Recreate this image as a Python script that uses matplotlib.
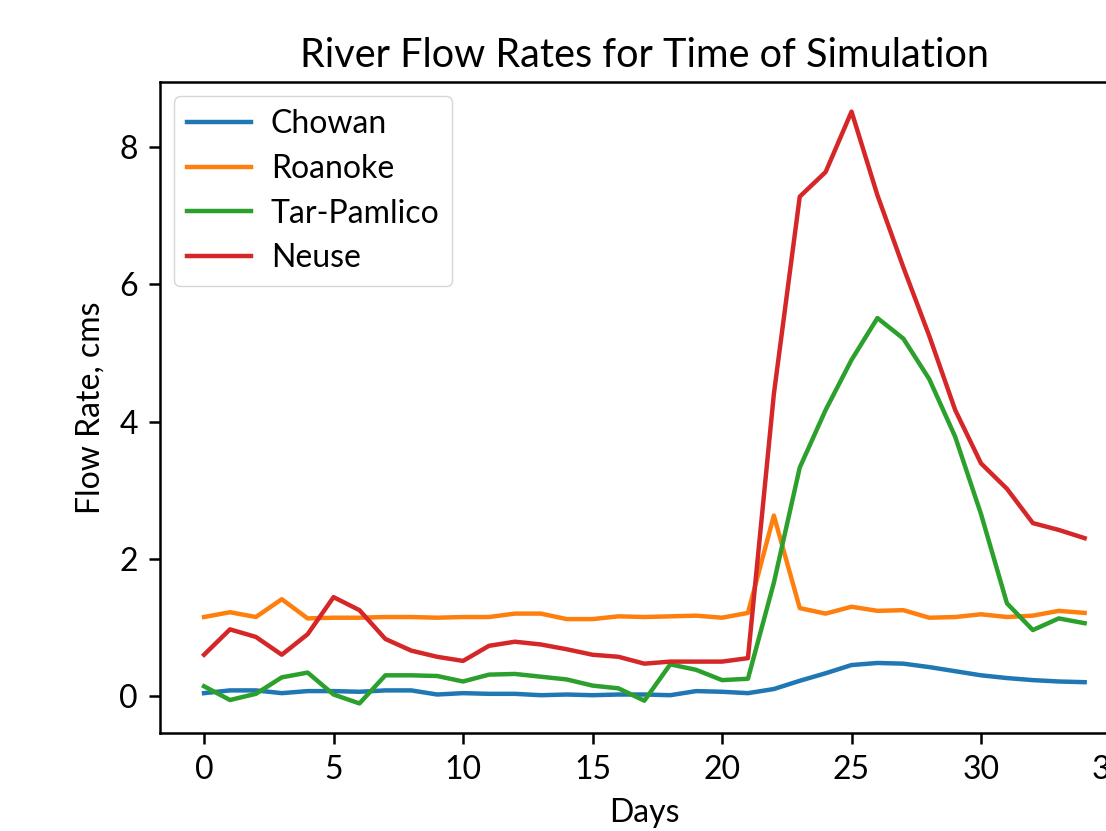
import matplotlib
matplotlib.use('Agg')
import matplotlib.pyplot as plt
import numpy as np

days = np.arange(35)

chowan = [0.04, 0.08, 0.08, 0.04, 0.07, 0.07, 0.06, 0.08, 0.08, 0.02,
          0.04, 0.03, 0.03, 0.01, 0.02, 0.01, 0.02, 0.02, 0.01, 0.07,
          0.06, 0.04, 0.10, 0.22, 0.33, 0.45, 0.48, 0.47, 0.42, 0.36,
          0.30, 0.26, 0.23, 0.21, 0.20]
roanoke = [1.15, 1.22, 1.15, 1.41, 1.13, 1.14, 1.14, 1.15, 1.15, 1.14,
           1.15, 1.15, 1.20, 1.20, 1.12, 1.12, 1.16, 1.15, 1.16, 1.17,
           1.14, 1.21, 2.63, 1.28, 1.20, 1.30, 1.24, 1.25, 1.14, 1.15,
           1.19, 1.15, 1.17, 1.24, 1.21]
tar_pamlico = [0.14, -0.06, 0.03, 0.27, 0.34, 0.02, -0.11, 0.30, 0.30, 0.29,
               0.21, 0.31, 0.32, 0.28, 0.24, 0.15, 0.11, -0.07, 0.46, 0.38,
               0.23, 0.25, 1.65, 3.33, 4.17, 4.90, 5.51, 5.21, 4.62, 3.78,
               2.65, 1.35, 0.96, 1.13, 1.06]
neuse = [0.60, 0.97, 0.86, 0.60, 0.90, 1.44, 1.25, 0.83, 0.66, 0.57,
         0.51, 0.73, 0.79, 0.75, 0.68, 0.60, 0.57, 0.47, 0.50, 0.50,
         0.50, 0.55, 4.40, 7.28, 7.64, 8.52, 7.30, 6.25, 5.25, 4.17,
         3.39, 3.02, 2.52, 2.42, 2.30]

rivers = ['Chowan', 'Roanoke', 'Tar-Pamlico', 'Neuse']

plt.rcParams['font.family'] = ['Lato', 'DejaVu Sans']
plt.rcParams['font.size'] = 23
plt.rcParams['axes.linewidth'] = 1.8
plt.rcParams['xtick.major.size'] = 8
plt.rcParams['ytick.major.size'] = 8
plt.rcParams['xtick.major.width'] = 1.8
plt.rcParams['ytick.major.width'] = 1.8
plt.rcParams['xtick.major.pad'] = 8
plt.rcParams['ytick.major.pad'] = 8

fig = plt.figure(figsize=(11.06, 8.31), dpi=100)
# axes runs off the right edge, like the cropped original
ax = fig.add_axes([0.1447, 0.1179, 0.8758, 0.7834])

for name, vals in zip(rivers, [chowan, roanoke, tar_pamlico, neuse]):
    ax.plot(days, vals, label=name, linewidth=3.2)

ax.set_title('River Flow Rates for Time of Simulation', fontsize=28.5, pad=11)
ax.set_xlabel('Days', labelpad=9)
ax.set_ylabel('Flow Rate, cms', labelpad=10)
ax.legend(loc='upper left', handlelength=2.0, labelspacing=0.46,
          handletextpad=0.62, borderaxespad=0.45)

fig.savefig('out.png', dpi=100)
